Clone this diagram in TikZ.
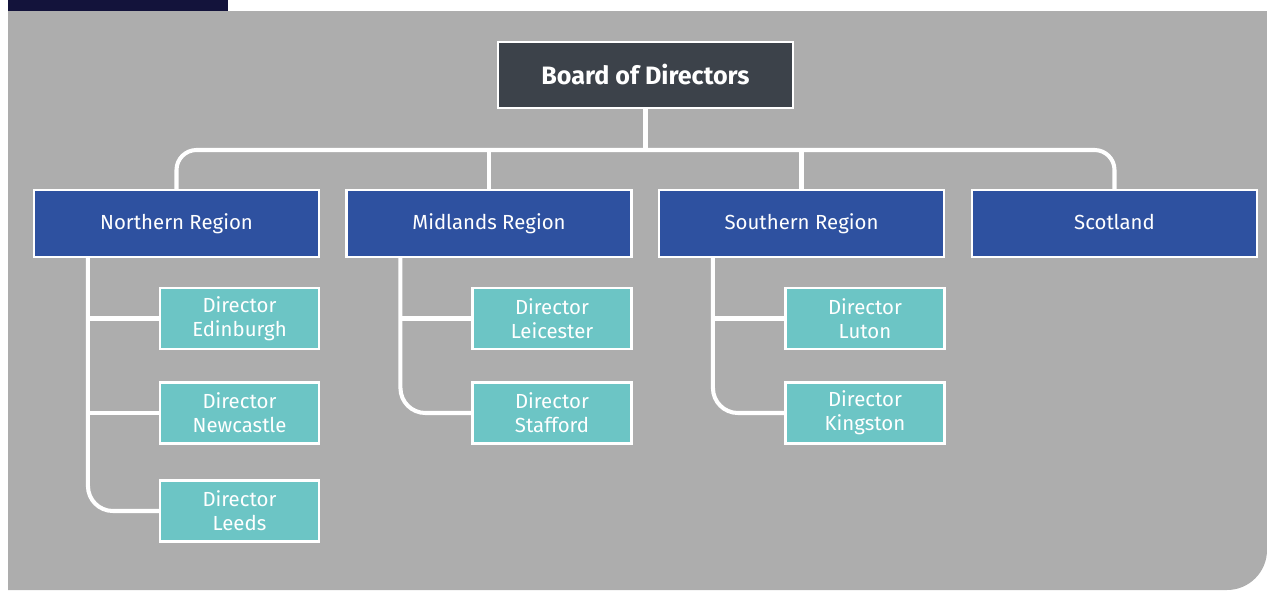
\documentclass[tikz,border=0pt]{standalone}
\usepackage{fontspec}
\setmainfont{Fira Sans}
\usepackage{tikz}
\usetikzlibrary{positioning, calc}
\usepackage{xcolor}
\definecolor{orgbg}{HTML}{ADADAD}
\definecolor{orgnavy}{HTML}{13133B}
\definecolor{orgboard}{HTML}{3C424A}
\definecolor{orgblue}{HTML}{2E51A0}
\definecolor{orgteal}{HTML}{6CC5C5}

\begin{document}
\begin{tikzpicture}[
  board/.style={draw=white, line width=1.2pt, fill=orgboard, text=white,
                minimum width=5.9cm, minimum height=1.32cm, font=\fontsize{14.3}{16}\selectfont\bfseries},
  region/.style={draw=white, line width=1.2pt, fill=orgblue, text=white,
                 text height=1.6ex, text depth=0.4ex,
                 minimum width=5.7cm, minimum height=1.34cm, font=\fontsize{11.6}{13}\selectfont},
  director/.style={draw=white, line width=1.2pt, fill=orgteal, text=white, align=center,
                   minimum width=3.18cm, minimum height=1.22cm, font=\fontsize{11.6}{13.7}\selectfont},
  wire/.style={draw=white, line width=2.3pt},
]
  \useasboundingbox (0,0) rectangle (25.34,-11.8);
  % backdrop
  \fill[orgbg] (0.16,-0.22) -- (25.34,-0.22) -- (25.34,-11.0)
    arc[start angle=0, end angle=-90, radius=0.8] -- (0.16,-11.8) -- cycle;
  \fill[orgnavy] (0.16,0) rectangle (4.56,-0.22);

  \node[board] (bod) at (12.91,-1.5) {Board of Directors};

  \node[region] (north) at (3.53,-4.47) {Northern Region};
  \node[region] (mid) at (9.78,-4.47) {Midlands Region};
  \node[region] (south) at (16.03,-4.47) {Southern Region};
  \node[region] (scot) at (22.29,-4.47) {Scotland};

  \node[director] (edin) at (4.79,-6.37) {Director\\Edinburgh};
  \node[director] (newc) at (4.79,-8.26) {Director\\Newcastle};
  \node[director] (leeds) at (4.79,-10.22) {Director\\Leeds};
  \node[director] (leic) at (11.04,-6.37) {Director\\Leicester};
  \node[director] (staff) at (11.04,-8.26) {Director\\Stafford};
  \node[director] (luton) at (17.3,-6.37) {Director\\Luton};
  \node[director] (king) at (17.3,-8.26) {Director\\Kingston};

  % top bus
  \coordinate (bus) at (0,-3);
  \draw[wire] (bod.south) -- (bod.south |- bus);
  \draw[wire, rounded corners=0.4cm] (north.north) |- (bus -| scot.north) -- (scot.north);
  \draw[wire] (mid.north) -- (mid.north |- bus);
  \draw[wire] (south.north) -- (south.north |- bus);

  % region branches
  \coordinate (nt) at ([xshift=1.1cm]north.south west);
  \coordinate (mt) at ([xshift=1.1cm]mid.south west);
  \coordinate (st) at ([xshift=1.1cm]south.south west);
  \draw[wire, rounded corners=0.5cm] (nt) |- (leeds.west);
  \draw[wire] (nt |- edin.west) -- (edin.west);
  \draw[wire] (nt |- newc.west) -- (newc.west);
  \draw[wire, rounded corners=0.5cm] (mt) |- (staff.west);
  \draw[wire] (mt |- leic.west) -- (leic.west);
  \draw[wire, rounded corners=0.5cm] (st) |- (king.west);
  \draw[wire] (st |- luton.west) -- (luton.west);
\end{tikzpicture}
\end{document}
